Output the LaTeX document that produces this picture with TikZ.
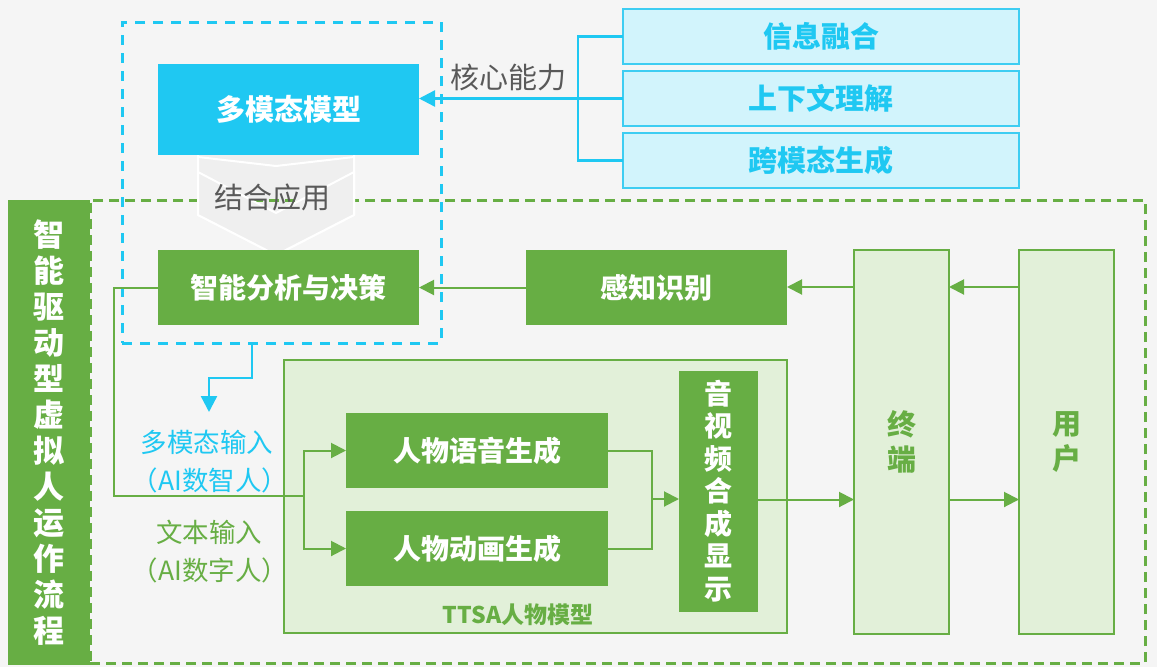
\documentclass[tikz,border=0pt]{standalone}
\usepackage{fontspec}
\setmainfont{Noto Sans CJK SC}
\usetikzlibrary{arrows.meta,calc}
\definecolor{gG}{HTML}{67AE44}
\definecolor{gL}{HTML}{E2F0D9}
\definecolor{cB}{HTML}{1FC8F2}
\definecolor{cL}{HTML}{D2F4FC}
\definecolor{cE}{HTML}{3ECDF2}
\definecolor{tG}{HTML}{595959}
\definecolor{bgc}{HTML}{F5F5F5}
\definecolor{chv}{HTML}{EFEFEF}
\begin{document}
\begin{tikzpicture}[x=1pt,y=-1pt,
  wh/.style 2 args={minimum width=#1pt,minimum height=#2pt},
  greenbox/.style={fill=gG,text=white,font=\fontsize{28}{34}\selectfont\bfseries,inner sep=0pt,outer sep=0pt},
  lightbox/.style={fill=gL,draw=gG,line width=1.5pt,inner sep=0pt,outer sep=0pt,text=gG},
  cyanbox/.style={fill=cL,draw=cE,line width=1.5pt,text=cB,font=\fontsize{29}{34}\selectfont\bfseries,inner sep=0pt,outer sep=0pt},
  gline/.style={draw=gG,line width=2pt},
  garrow/.style={gline,-{Triangle[length=15pt,width=15pt]}},
  bline/.style={draw=cB,line width=2.4pt},
  barrow/.style={bline,-{Triangle[length=16pt,width=16pt]}},
  chev/.style={fill=chv,draw=white,line width=2pt,line join=miter},
  vtext/.style={align=center,inner sep=0pt},
]
\useasboundingbox (0,0) rectangle (1157,667);
\fill[bgc] (0,0) rectangle (1157,667);

% gray backdrop of the chevrons
\filldraw[chev] (198,140) -- (354,140) -- (354,215) -- (276,255) -- (198,215) -- cycle;

% outer green dashed frame
\node[draw=gG,line width=3pt,dash pattern=on 10pt off 6pt,wh={1055}{463},inner sep=0pt] (gframe) at (617.5,431.5) {};

% left title bar
\node[fill=gG,wh={82}{465},vtext,text=white,font=\fontsize{31}{36}\selectfont\bfseries] (bar) at (49,432.5)
  {智\\能\\驱\\动\\型\\虚\\拟\\人\\运\\作\\流\\程};

% chevrons
\draw[white,line width=2pt] (198,157) -- (276,166) -- (354,157);
\filldraw[chev] (198,172) -- (276,213) -- (354,172) -- (354,215) -- (276,255) -- (198,215) -- cycle;
\node[font=\fontsize{29}{34}\selectfont,text=tG,inner sep=0pt] (jh) at (272,197) {结合应用};

% top model boxes
\node[fill=cB,text=white,font=\fontsize{29}{34}\selectfont\bfseries,inner sep=0pt,outer sep=0pt,wh={261}{91}] (mm) at (288.5,109.5) {多模态模型};
\node[cyanbox,wh={396}{55}] (r1) at (821,36.5) {信息融合};
\node[cyanbox,wh={396}{55}] (r2) at (821,98.5) {上下文理解};
\node[cyanbox,wh={396}{55}] (r3) at (821,160.5) {跨模态生成};
\node[font=\fontsize{29}{34}\selectfont,text=tG,inner sep=0pt] (hx) at (508,77) {核心能力};

% green row
\node[greenbox,wh={261}{75}] (zn) at (288.5,287.5) {智能分析与决策};
\node[greenbox,wh={261}{75}] (gz) at (656.5,287.5) {感知识别};
\node[lightbox,wh={95}{384},vtext,font=\fontsize{29}{35}\selectfont\bfseries] (zd) at (901.5,442) {终\\端};
\node[lightbox,wh={95}{384},vtext,font=\fontsize{29}{35}\selectfont\bfseries] (yh) at (1066.5,442) {用\\户};

% TTSA container
\node[lightbox,wh={503}{273}] (ttsa) at (535.5,496.5) {};
\node[text=gG,font=\fontsize{23}{28}\selectfont\bfseries,inner sep=0pt] (ttsal) at (518,615) {TTSA人物模型};
\node[greenbox,wh={262}{75}] (yy) at (477,450.5) {人物语音生成};
\node[greenbox,wh={262}{75}] (dh) at (477,548.5) {人物动画生成};
\node[greenbox,wh={79}{241},vtext,font=\fontsize{28}{32.5}\selectfont\bfseries] (sp) at (718.5,491) {音\\视\\频\\合\\成\\显\\示};

% input labels
\node[text=cB,font=\fontsize{26.5}{32}\selectfont,inner sep=0pt] (in1a) at (207,442) {多模态输入};
\node[text=cB,font=\fontsize{26.5}{32}\selectfont,inner sep=0pt] (in1b) at (210,480) {（AI数智人）};
\node[text=gG,font=\fontsize{26.5}{32}\selectfont,inner sep=0pt] (in2a) at (209,532) {文本输入};
\node[text=gG,font=\fontsize{26.5}{32}\selectfont,inner sep=0pt] (in2b) at (210,570) {（AI数字人）};

% blue dashed frame
\node[draw=cB,line width=3pt,dash pattern=on 10pt off 8pt,wh={319}{321},inner sep=0pt] (bframe) at (281.5,182.5) {};

% cyan connectors
\coordinate (brt) at (578,36.5);
\coordinate (brb) at (578,160.5);
\draw[bline] (r1.west) -- (brt) -- (brb) -- (r3.west);
\draw[barrow] (r2.west) -- (mm.east |- r2.west);
\coordinate (bd0) at (252,343);
\coordinate (bd1) at (252,378);
\coordinate (bd2) at (209,412);
\draw[barrow] (bd0) -- (bd1) -| (bd2);

% green connectors
\draw[garrow] (gz.west) -- (zn.east);
\draw[garrow] (zd.west |- 0,287) -- (gz.east |- 0,287);
\draw[garrow] (yh.west |- 0,287) -- (zd.east |- 0,287);
\coordinate (lo) at (0,499.5);
\draw[garrow] (sp.east |- lo) -- (zd.west |- lo);
\draw[garrow] (zd.east |- lo) -- (yh.west |- lo);

\coordinate (in1) at (114,496);
\coordinate (spl) at (304,496);
\draw[gline] (zn.west) -| (in1) -- (spl);
\draw[garrow] (spl) |- (yy.west);
\draw[garrow] (spl) |- (dh.west);

\coordinate (mg) at (652,499);
\draw[gline] (yy.east) -| (mg);
\draw[gline] (dh.east) -| (mg);
\draw[garrow] (mg) -- (sp.west |- mg);
\end{tikzpicture}
\end{document}
